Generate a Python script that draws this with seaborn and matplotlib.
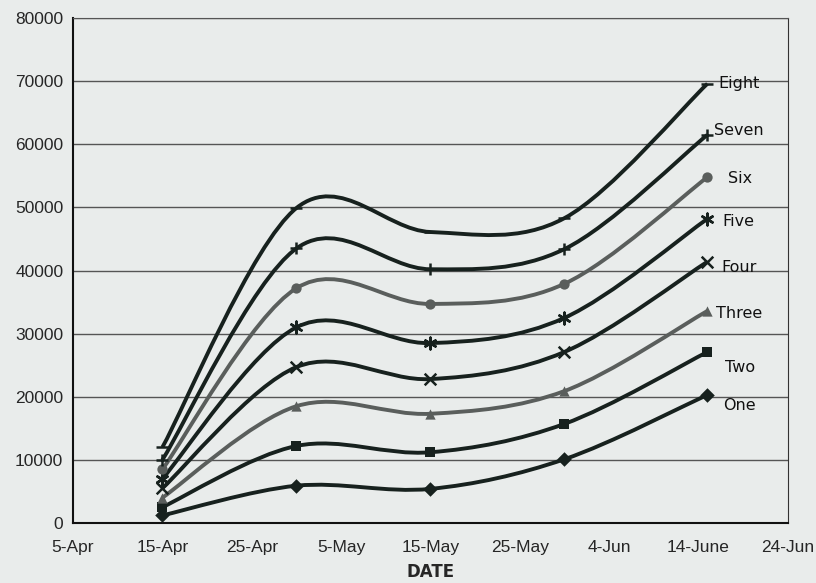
import numpy as np
import pandas as pd
import matplotlib
matplotlib.use("Agg")
import matplotlib.pyplot as plt
import matplotlib.dates as mdates
from matplotlib.path import Path
from matplotlib.patches import PathPatch
import seaborn as sns

# data
dates = pd.to_datetime(["2004-04-15", "2004-04-30", "2004-05-15", "2004-05-30", "2004-06-15"])
one = [1200, 5900, 5400, 10100, 20300]
two = [2500, 12200, 11200, 15700, 27100]
three = [4000, 18500, 17300, 20900, 33600]
four = [5500, 24700, 22800, 27100, 41400]
five = [7000, 31000, 28500, 32500, 48200]
six = [8500, 37200, 34700, 37900, 54800]
seven = [10000, 43500, 40200, 43400, 61500]
eight = [12000, 49900, 46100, 48300, 69600]

names = ["One", "Two", "Three", "Four", "Five", "Six", "Seven", "Eight"]
values = [one, two, three, four, five, six, seven, eight]
markers = ["D", "s", "^", "x", (6, 2, 0), "o", "+", "_"]
colors = ["#17211e", "#17211e", "#5a5e5c", "#17211e", "#17211e", "#5a5e5c", "#17211e", "#17211e"]
# label offsets in points (dx, dy) next to the last point
label_off = [(11, -8), (13, -11), (6, -2), (10, -4), (11, -2), (15, -1), (5, 3), (8, 0)]

tick_dates = pd.date_range("2004-04-05", "2004-06-24", freq="10D")
tick_labels = ["5-Apr", "15-Apr", "25-Apr", "5-May", "15-May", "25-May", "4-Jun", "14-June", "24-Jun"]

bg = "#e9eceb"
sns.set_style("white")
plt.rcParams["font.family"] = ["Liberation Sans Narrow", "Liberation Sans", "DejaVu Sans"]

fig = plt.figure(figsize=(8.16, 5.83), dpi=100, facecolor=bg)
ax = fig.add_axes([0.0895, 0.103, 0.876, 0.866])
ax.set_facecolor(bg)

xnum = mdates.date2num(dates)


def smooth_path(x, y):
    # excel-style smoothed line: cubic bezier segments between points
    pts = np.column_stack([x, y])
    verts = [pts[0]]
    codes = [Path.MOVETO]
    n = len(pts)
    for i in range(n - 1):
        p0 = pts[max(i - 1, 0)]
        p1 = pts[i]
        p2 = pts[i + 1]
        p3 = pts[min(i + 2, n - 1)]
        verts += [p1 + (p2 - p0) / 6, p2 - (p3 - p1) / 6, p2]
        codes += [Path.CURVE4] * 3
    return Path(verts, codes)


for name, vals, m, c, off in zip(names, values, markers, colors, label_off):
    ax.add_patch(PathPatch(smooth_path(xnum, np.array(vals, float)), fill=False,
                           edgecolor=c, lw=2.8, zorder=3))
    filled = m in ["D", "s", "^", "o"]
    sns.scatterplot(x=dates, y=vals, marker=m, color=c, s=55 if filled else 70,
                    linewidth=1.8 if not filled else 0, edgecolor=c, ax=ax, zorder=4)
    ax.annotate(name, (xnum[-1], vals[-1]), xytext=off, textcoords="offset points",
                va="center", ha="left", fontsize=11.5, family="DejaVu Sans", color="#111111")

ax.set_xlim(mdates.date2num(tick_dates[0]), mdates.date2num(tick_dates[-1]))
ax.set_ylim(0, 80000)
ax.set_xticks(tick_dates)
ax.set_xticklabels(tick_labels, fontsize=12.5)
ax.set_yticks(range(0, 80001, 10000))
ax.set_yticklabels([str(v) for v in range(0, 80001, 10000)], fontsize=12.5)
ax.grid(axis="y", color="#555555", lw=1)
ax.set_axisbelow(True)
ax.tick_params(axis="y", direction="out", length=5, width=1, color="#222222", pad=2)
ax.tick_params(axis="x", direction="in", length=5, width=1, color="#222222", pad=12)
for s in ["left", "bottom"]:
    ax.spines[s].set_color("#111111")
    ax.spines[s].set_linewidth(1.5)
ax.spines["right"].set_color("#333333")
ax.spines["top"].set_color("#555555")
ax.set_xlabel("DATE", fontsize=12, family="DejaVu Sans", fontweight="bold", labelpad=6)
ax.set_ylabel("")

fig.savefig("out.png", dpi=100, facecolor=bg)
